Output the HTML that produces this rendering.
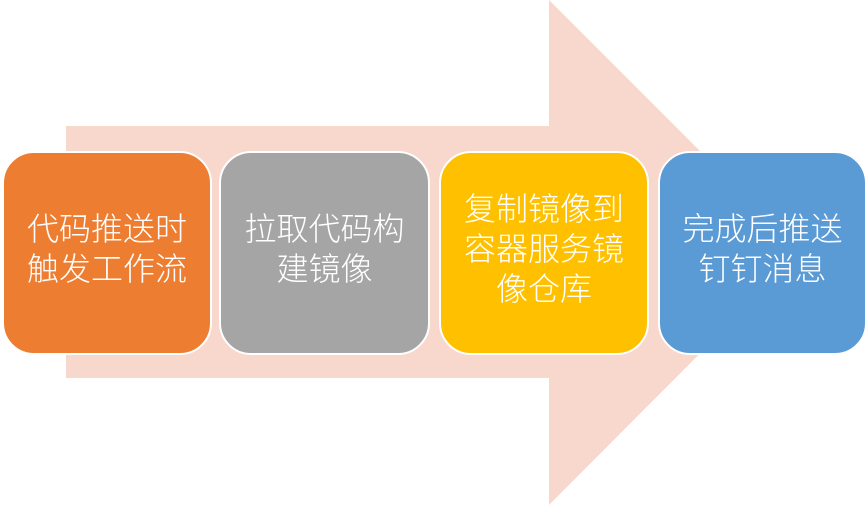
<!DOCTYPE html>
<html><head><meta charset="utf-8"><style>
body{margin:0;width:868px;height:505px;background:#fff;position:relative;overflow:hidden}
.b{position:absolute;top:151px;height:200px;border:2px solid #fff;border-radius:32px;color:#fff;display:flex;align-items:center;justify-content:center;text-align:center;font-family:"Liberation Sans","Noto Sans CJK SC",sans-serif;font-size:32px;line-height:40px;font-weight:300;box-sizing:content-box}
.b span{position:relative;top:-4px}
</style></head><body>
<svg width="868" height="505" style="position:absolute;left:0;top:0">
<polygon points="66,126 549,126 549,0 801,252 549,505 549,378 66,378" fill="#F8D7CD"/>
</svg>
<div class="b" style="left:2px;width:206px;background:#ED7D31"><span>代码推送时<br>触发工作流</span></div>
<div class="b" style="left:219px;width:207px;background:#A5A5A5"><span>拉取代码构<br>建镜像</span></div>
<div class="b" style="left:439px;width:206px;background:#FFC000"><span>复制镜像到<br>容器服务镜<br>像仓库</span></div>
<div class="b" style="left:658px;width:205px;background:#5B9BD5"><span>完成后推送<br>钉钉消息</span></div>
</body></html>
